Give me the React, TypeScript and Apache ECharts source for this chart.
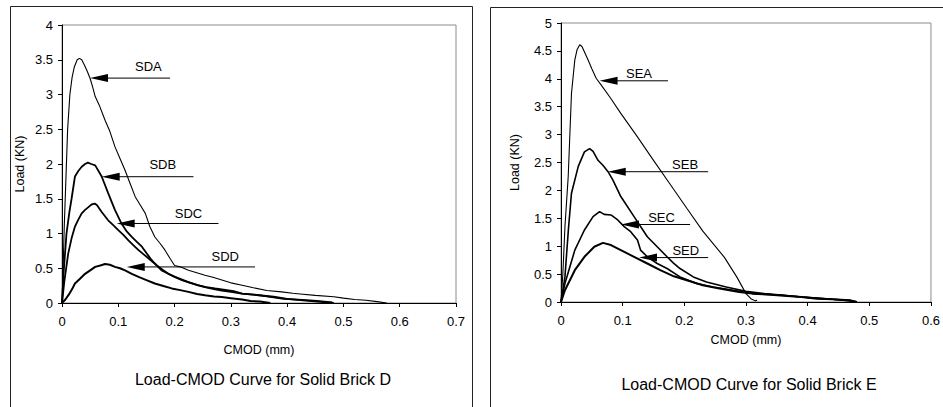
import React, { useEffect, useRef } from 'react';
import * as echarts from 'echarts';

// ---------- Solid Brick D ----------
const SDA_X = [0, 0.002, 0.004, 0.007, 0.010, 0.014, 0.018, 0.022, 0.027, 0.031, 0.035, 0.040, 0.045, 0.050, 0.054, 0.059, 0.066, 0.0765, 0.085, 0.094, 0.103, 0.112, 0.121, 0.130, 0.139, 0.148, 0.156, 0.165, 0.174, 0.183, 0.192, 0.200, 0.210, 0.2246, 0.238, 0.254, 0.268, 0.284, 0.300, 0.320, 0.340, 0.364, 0.390, 0.410, 0.423, 0.450, 0.483, 0.500, 0.520, 0.540, 0.560, 0.577];
const SDA_Y = [0, 0.5, 1.1, 1.8, 2.5, 3.0, 3.25, 3.4, 3.5, 3.52, 3.5, 3.42, 3.33, 3.23, 3.12, 2.97, 2.85, 2.63, 2.47, 2.25, 2.08, 1.91, 1.72, 1.53, 1.41, 1.29, 1.10, 0.95, 0.86, 0.76, 0.64, 0.54, 0.52, 0.47, 0.44, 0.40, 0.37, 0.33, 0.29, 0.255, 0.22, 0.18, 0.16, 0.14, 0.13, 0.11, 0.09, 0.07, 0.05, 0.04, 0.02, 0];

const SDB_X = [0, 0.003, 0.008, 0.013, 0.017, 0.023, 0.029, 0.035, 0.041, 0.046, 0.052, 0.059, 0.0705, 0.082, 0.094, 0.106, 0.115, 0.124, 0.133, 0.142, 0.150, 0.159, 0.168, 0.177, 0.189, 0.201, 0.2246, 0.240, 0.254, 0.270, 0.284, 0.300, 0.320, 0.352, 0.394, 0.420, 0.453, 0.480];
const SDB_Y = [0, 0.45, 1.0, 1.3, 1.5, 1.82, 1.9, 1.96, 2.0, 2.02, 2.0, 1.98, 1.82, 1.58, 1.34, 1.14, 1.03, 0.95, 0.88, 0.81, 0.72, 0.62, 0.54, 0.47, 0.42, 0.375, 0.30, 0.26, 0.23, 0.2, 0.18, 0.16, 0.135, 0.11, 0.06, 0.05, 0.03, 0.01];

const SDC_X = [0, 0.004, 0.011, 0.017, 0.023, 0.029, 0.035, 0.041, 0.047, 0.053, 0.058, 0.062, 0.0705, 0.082, 0.091, 0.100, 0.109, 0.118, 0.127, 0.136, 0.145, 0.154, 0.163, 0.172, 0.180, 0.189, 0.201, 0.213, 0.228, 0.242, 0.256, 0.272, 0.290, 0.305, 0.320, 0.340, 0.376, 0.400, 0.423, 0.459, 0.483];
const SDC_Y = [0, 0.3, 0.71, 0.93, 1.10, 1.2, 1.29, 1.34, 1.38, 1.42, 1.43, 1.41, 1.31, 1.19, 1.12, 1.05, 0.98, 0.90, 0.83, 0.76, 0.70, 0.64, 0.58, 0.52, 0.47, 0.42, 0.37, 0.33, 0.29, 0.255, 0.23, 0.21, 0.19, 0.17, 0.135, 0.12, 0.09, 0.06, 0.04, 0.015, 0];

const SDD_X = [0, 0.006, 0.012, 0.018, 0.023, 0.032, 0.041, 0.050, 0.059, 0.068, 0.0765, 0.085, 0.094, 0.103, 0.112, 0.124, 0.136, 0.150, 0.165, 0.180, 0.195, 0.210, 0.2246, 0.240, 0.254, 0.270, 0.284, 0.300, 0.320, 0.335, 0.352, 0.370];
const SDD_Y = [0, 0.05, 0.12, 0.2, 0.28, 0.35, 0.42, 0.47, 0.52, 0.54, 0.56, 0.55, 0.52, 0.5, 0.47, 0.42, 0.375, 0.33, 0.28, 0.245, 0.21, 0.185, 0.16, 0.13, 0.11, 0.095, 0.086, 0.07, 0.05, 0.03, 0.02, 0];

// ---------- Solid Brick E ----------
const SEA_X = [0, 0.003, 0.0064, 0.0117, 0.017, 0.0224, 0.026, 0.0304, 0.034, 0.0438, 0.050, 0.057, 0.065, 0.080, 0.097, 0.124, 0.1506, 0.177, 0.204, 0.230, 0.265, 0.285, 0.300, 0.308, 0.315, 0.318];
const SEA_Y = [0, 0.5, 1.35, 2.25, 3.74, 4.34, 4.52, 4.61, 4.58, 4.34, 4.18, 4.01, 3.89, 3.66, 3.38, 2.96, 2.53, 2.11, 1.68, 1.27, 0.80, 0.45, 0.15, 0.06, 0.02, 0.03];

const SEB_X = [0, 0.0064, 0.012, 0.017, 0.028, 0.038, 0.0464, 0.052, 0.060, 0.068, 0.076, 0.084, 0.097, 0.1185, 0.140, 0.156, 0.172, 0.182, 0.193, 0.2146, 0.236, 0.268, 0.300, 0.330, 0.361, 0.390, 0.415, 0.440, 0.468, 0.480];
const SEB_Y = [0, 0.45, 1.3, 1.95, 2.43, 2.69, 2.75, 2.70, 2.54, 2.45, 2.34, 2.19, 1.89, 1.53, 1.17, 0.99, 0.81, 0.70, 0.60, 0.45, 0.36, 0.27, 0.19, 0.15, 0.12, 0.09, 0.07, 0.05, 0.03, 0];

const SEC_X = [0, 0.0064, 0.0224, 0.038, 0.052, 0.0625, 0.070, 0.081, 0.092, 0.1025, 0.113, 0.124, 0.129, 0.140, 0.156, 0.172, 0.193, 0.220, 0.247, 0.279, 0.305, 0.330, 0.361, 0.390, 0.415, 0.440, 0.468, 0.478];
const SEC_Y = [0, 0.33, 0.93, 1.29, 1.53, 1.62, 1.57, 1.56, 1.47, 1.35, 1.26, 1.11, 0.93, 0.81, 0.69, 0.60, 0.45, 0.33, 0.27, 0.21, 0.16, 0.14, 0.12, 0.09, 0.07, 0.05, 0.02, 0];

const SED_X = [0, 0.0064, 0.0224, 0.038, 0.054, 0.068, 0.081, 0.097, 0.1185, 0.140, 0.161, 0.183, 0.204, 0.230, 0.257, 0.289, 0.310, 0.340, 0.361, 0.390, 0.415, 0.440, 0.468, 0.480];
const SED_Y = [0, 0.21, 0.57, 0.81, 0.99, 1.06, 1.02, 0.93, 0.81, 0.69, 0.57, 0.46, 0.39, 0.30, 0.24, 0.18, 0.15, 0.13, 0.11, 0.09, 0.06, 0.05, 0.03, 0];

// ---------- Annotation arrows ----------
const D_LABELS = ['SDA', 'SDB', 'SDC', 'SDD'];
const D_TIP_X = [0.0498, 0.0705, 0.0972, 0.115];
const D_ARROW_Y = [3.236, 1.817, 1.144, 0.519];
const D_TAIL_X = [0.192, 0.2336, 0.278, 0.343];
const D_LABEL_X = [0.1535, 0.179, 0.2247, 0.29];
const D_LABEL_Y = [3.40, 1.995, 1.288, 0.663];

const E_LABELS = ['SEA', 'SEB', 'SEC', 'SED'];
const E_TIP_X = [0.0625, 0.0758, 0.0972, 0.1265];
const E_ARROW_Y = [3.964, 2.335, 1.389, 0.796];
const E_TAIL_X = [0.1735, 0.2387, 0.2093, 0.2387];
const E_LABEL_X = [0.1265, 0.2013, 0.163, 0.2024];
const E_LABEL_Y = [4.09, 2.47, 1.515, 0.916];

const X_TICKS_D = [0, 0.1, 0.2, 0.3, 0.4, 0.5, 0.6, 0.7];
const X_TICKS_E = [0, 0.1, 0.2, 0.3, 0.4, 0.5, 0.6];

const FONT = 'Liberation Sans, Arial, sans-serif';

const zip = (xs: number[], ys: number[]) => xs.map((x, i) => [x, ys[i]]);

function lineSeries(name: string, xs: number[], ys: number[], idx: number, width: number) {
  return {
    name,
    type: 'line',
    xAxisIndex: idx,
    yAxisIndex: idx,
    data: zip(xs, ys),
    symbol: 'none',
    smooth: false,
    lineStyle: { color: '#000', width },
    z: 3,
  };
}

function arrowSeries(labels: string[], tipX: number[], ys: number[], tailX: number[], lx: number[], ly: number[], idx: number) {
  return {
    type: 'custom',
    xAxisIndex: idx,
    yAxisIndex: idx,
    data: labels.map((_, i) => [tipX[i], ys[i], tailX[i], lx[i], ly[i]]),
    encode: { x: [0, 2, 3], y: [1, 4] },
    z: 5,
    renderItem: (params: any, api: any) => {
      const tip = api.coord([api.value(0), api.value(1)]);
      const tail = api.coord([api.value(2), api.value(1)]);
      const lab = api.coord([api.value(3), api.value(4)]);
      const text = labels[params.dataIndex];
      return {
        type: 'group',
        children: [
          {
            type: 'line',
            shape: { x1: tip[0] + 12, y1: tip[1], x2: tail[0], y2: tail[1] },
            style: { stroke: '#000', lineWidth: 1 },
          },
          {
            type: 'polygon',
            shape: { points: [[tip[0], tip[1]], [tip[0] + 18, tip[1] - 4], [tip[0] + 18, tip[1] + 4]] },
            style: { fill: '#000' },
          },
          {
            type: 'text',
            x: lab[0],
            y: lab[1],
            style: {
              text,
              fill: '#000',
              fontSize: 13,
              fontFamily: FONT,
              align: 'center',
              verticalAlign: 'middle',
              textAlign: 'center',
              textVerticalAlign: 'middle',
            },
          },
        ],
      };
    },
  };
}

function xAxis(idx: number, max: number, nameGap: number) {
  return {
    type: 'value',
    gridIndex: idx,
    min: 0,
    max,
    interval: 0.1,
    name: 'CMOD (mm)',
    nameLocation: 'middle',
    nameGap,
    nameTextStyle: { color: '#000', fontSize: 12.5, fontFamily: FONT },
    axisLine: { show: true, onZero: false, lineStyle: { color: '#000', width: 1 } },
    axisTick: { show: true, inside: false, length: 4, lineStyle: { color: '#000' } },
    axisLabel: {
      color: '#000',
      fontSize: 13,
      fontFamily: FONT,
      margin: 12,
      formatter: (v: number) => String(+v.toFixed(2)),
    },
    splitLine: { show: false },
  };
}

function yAxis(idx: number, max: number, nameGap: number) {
  return {
    type: 'value',
    gridIndex: idx,
    min: 0,
    max,
    interval: 0.5,
    name: 'Load (KN)',
    nameLocation: 'middle',
    nameRotate: 90,
    nameGap,
    nameTextStyle: { color: '#000', fontSize: 12.5, fontFamily: FONT },
    axisLine: { show: true, onZero: false, lineStyle: { color: '#000', width: 1 } },
    axisTick: { show: true, inside: false, length: 4, lineStyle: { color: '#000' } },
    axisLabel: {
      color: '#000',
      fontSize: 13,
      fontFamily: FONT,
      margin: 9,
      formatter: (v: number) => String(+v.toFixed(2)),
    },
    splitLine: { show: false },
  };
}

export default function App() {
  const ref = useRef<HTMLDivElement>(null);
  useEffect(() => {
    if (!ref.current) return;
    const chart = echarts.init(ref.current, undefined, { renderer: 'svg' });
    const option: any = {
      animation: false,
      backgroundColor: '#fff',
      title: [
        {
          text: 'Load-CMOD Curve for Solid Brick D',
          left: 263,
          top: 371,
          textAlign: 'center',
          padding: 0,
          textStyle: { color: '#000', fontSize: 16, fontWeight: 'normal', fontFamily: FONT },
        },
        {
          text: 'Load-CMOD Curve for Solid Brick E',
          left: 749,
          top: 376,
          textAlign: 'center',
          padding: 0,
          textStyle: { color: '#000', fontSize: 16, fontWeight: 'normal', fontFamily: FONT },
        },
      ],
      graphic: [
        {
          type: 'rect',
          shape: { x: 10.5, y: 6.5, width: 462, height: 420 },
          style: { fill: 'none', stroke: '#222', lineWidth: 1 },
          z: -1,
        },
        {
          type: 'rect',
          shape: { x: 490.5, y: 7.5, width: 470, height: 420 },
          style: { fill: 'none', stroke: '#222', lineWidth: 1 },
          z: -1,
        },
      ],
      grid: [
        { left: 62, top: 25, width: 394, height: 278, show: true, borderColor: '#8c8c8c', borderWidth: 1, backgroundColor: 'transparent' },
        { left: 561, top: 23, width: 375, height: 279, show: true, borderColor: '#8c8c8c', borderWidth: 1, backgroundColor: 'transparent' },
      ],
      xAxis: [xAxis(0, X_TICKS_D[X_TICKS_D.length - 1], 40), xAxis(1, X_TICKS_E[X_TICKS_E.length - 1], 31)],
      yAxis: [yAxis(0, 4, 36), yAxis(1, 5, 40)],
      series: [
        lineSeries('SDA', SDA_X, SDA_Y, 0, 1.1),
        lineSeries('SDB', SDB_X, SDB_Y, 0, 1.8),
        lineSeries('SDC', SDC_X, SDC_Y, 0, 1.8),
        lineSeries('SDD', SDD_X, SDD_Y, 0, 2),
        lineSeries('SEA', SEA_X, SEA_Y, 1, 1.1),
        lineSeries('SEB', SEB_X, SEB_Y, 1, 1.6),
        lineSeries('SEC', SEC_X, SEC_Y, 1, 1.6),
        lineSeries('SED', SED_X, SED_Y, 1, 2),
        arrowSeries(D_LABELS, D_TIP_X, D_ARROW_Y, D_TAIL_X, D_LABEL_X, D_LABEL_Y, 0),
        arrowSeries(E_LABELS, E_TIP_X, E_ARROW_Y, E_TAIL_X, E_LABEL_X, E_LABEL_Y, 1),
      ],
    };
    chart.setOption(option);
    return () => chart.dispose();
  }, []);
  return <div ref={ref} style={{ position: 'fixed', left: 0, top: 0, width: 943, height: 407 }} />;
}
